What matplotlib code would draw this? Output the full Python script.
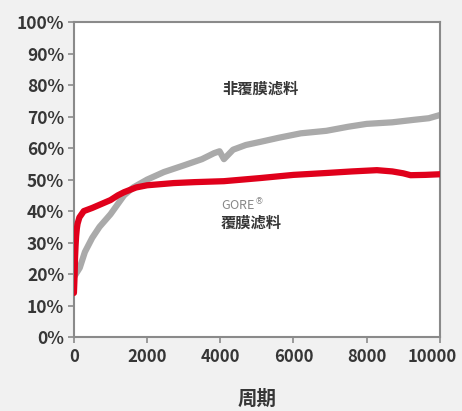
import numpy as np
import matplotlib
matplotlib.use("Agg")
import matplotlib.pyplot as plt
import matplotlib.transforms as mtransforms

plt.rcParams["font.family"] = ["Noto Sans CJK SC", "DejaVu Sans"]

# cycles vs. value for the two filter media
gray_x = [0, 80, 160, 300, 500, 700, 1000, 1370, 1620, 2000, 2460, 3000, 3500,
          3830, 3980, 4100, 4350, 4700, 5100, 5600, 6200, 6900, 7500, 8000, 8700,
          9300, 9700, 10000]
gray_y = [19, 20.5, 22, 27, 31.5, 35, 39, 45, 47.5, 50, 52.4, 54.5, 56.5,
          58.4, 59, 56.5, 59.5, 61, 62, 63.3, 64.7, 65.5, 66.8, 67.7, 68.2,
          69, 69.5, 70.5]

red_x = [0, 10, 20, 30, 45, 60, 80, 100, 150, 270, 500, 800, 1000, 1200, 1370,
         1700, 2000, 2730, 3300, 4100, 4600, 5100, 6000, 6900, 7600, 8280, 8700,
         9000, 9200, 9600, 10000]
red_y = [14, 17, 20, 25, 29, 32, 34.5, 36, 38, 40, 41, 42.5, 43.5, 45, 46,
         47.5, 48.2, 48.9, 49.2, 49.5, 50, 50.5, 51.5, 52.1, 52.6, 53, 52.6,
         52, 51.4, 51.5, 51.7]

yticks = [0, 10, 20, 30, 40, 50, 60, 70, 80, 90, 100]
xticks = [0, 2000, 4000, 6000, 8000, 10000]

fig = plt.figure(figsize=(4.62, 4.11), dpi=100, facecolor="#f1f1f1")
ax = fig.add_axes([0.160, 0.180, 0.792, 0.766])
ax.set_facecolor("white")

ax.plot(gray_x, gray_y, color="#aaaaaa", lw=4.5, solid_capstyle="round", zorder=2)
ax.plot(red_x, red_y, color="#e0001b", lw=4.5, solid_capstyle="round", zorder=3)

ax.set_xlim(0, 10000)
ax.set_ylim(0, 100)
ax.set_xticks(xticks)
ax.set_xticklabels([str(v) for v in xticks])
ax.set_yticks(yticks)
ax.set_yticklabels([f"{v}%" for v in yticks])

for s in ax.spines.values():
    s.set_color("#8a8a8a")
    s.set_linewidth(1.5)
ax.tick_params(colors="#8a8a8a", labelcolor="#363636", length=4, width=1.2, pad=3)
ax.tick_params(axis="y", labelsize=12.5)
ax.tick_params(axis="x", labelsize=12, pad=4)
for lab in ax.get_xticklabels() + ax.get_yticklabels():
    lab.set_fontweight("bold")
# keep the last x label inside the figure
last = ax.get_xticklabels()[-1]
last.set_transform(last.get_transform() + mtransforms.ScaledTranslation(-8 / 100, 0, fig.dpi_scale_trans))

ax.set_xlabel("周期", fontsize=14, fontweight="bold", color="#363636", labelpad=17)

ax.text(5100, 79, "非覆膜滤料", fontsize=11, fontweight="bold", color="#363636", ha="center", va="center")
ax.text(4020, 41.8, "GORE$^{®}$", fontsize=9, color="#888888", ha="left", va="center")
ax.text(4020, 36.5, "覆膜滤料", fontsize=11, fontweight="bold", color="#363636", ha="left", va="center")

fig.savefig("out.png", dpi=100, facecolor=fig.get_facecolor())
